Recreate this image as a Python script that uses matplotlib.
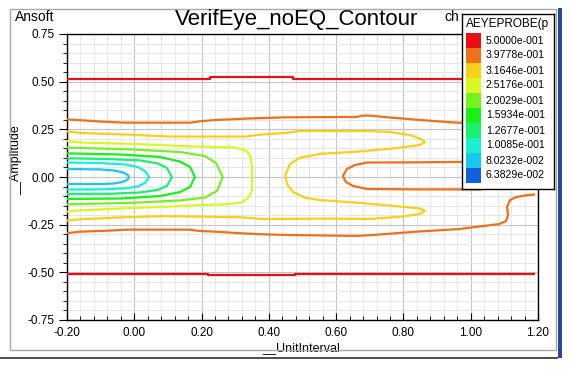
import matplotlib
matplotlib.use("Agg")
import matplotlib.pyplot as plt
from matplotlib.patches import Rectangle
from matplotlib.lines import Line2D
from matplotlib.ticker import MultipleLocator, FormatStrFormatter

plt.rcParams['font.family'] = ['Liberation Sans', 'DejaVu Sans']
plt.rcParams['axes.unicode_minus'] = False

## legend levels (AEYEPROBE)
level_labels = ["5.0000e-001", "3.9778e-001", "3.1646e-001", "2.5176e-001", "2.0029e-001",
                "1.5934e-001", "1.2677e-001", "1.0085e-001", "8.0232e-002", "6.3829e-002"]
level_colors = ["#E81010", "#F07018", "#F8D018", "#D8F820", "#78F020",
                "#18F018", "#18F070", "#18F0D0", "#18C8F0", "#1060E0"]

## contour traces (UnitInterval, Amplitude)
red_top_x = [-0.200, 0.225, 0.225, 0.472, 0.472, 1.190]
red_top_y = [0.514, 0.514, 0.522, 0.522, 0.514, 0.514]
red_bot_x = [-0.200, 0.219, 0.219, 0.478, 0.478, 1.188]
red_bot_y = [-0.507, -0.507, -0.512, -0.512, -0.507, -0.507]

orange_top_x = [-0.200, -0.170, -0.102, -0.028, 0.166, 0.195, 0.240, 0.344, 0.451,
                0.662, 0.677, 0.701, 0.760, 0.849, 0.959, 1.030]
orange_top_y = [0.302, 0.299, 0.291, 0.285, 0.285, 0.292, 0.299, 0.307, 0.313,
                0.315, 0.322, 0.322, 0.312, 0.299, 0.285, 0.281]
orange_mid_x = [1.030, 0.959, 0.849, 0.730, 0.692, 0.656, 0.632, 0.620, 0.629, 0.650,
                0.692, 0.849, 0.959, 1.030]
orange_mid_y = [0.079, 0.079, 0.077, 0.076, 0.076, 0.063, 0.042, 0.005, -0.026, -0.047,
                -0.063, -0.065, -0.065, -0.066]
orange_bot_x = [-0.200, -0.164, -0.084, -0.019, 0.160, 0.195, 0.255, 0.314, 0.389, 0.451,
                0.659, 0.710, 0.837, 0.965, 1.084, 1.105, 1.111, 1.108, 1.117, 1.135,
                1.161, 1.188]
orange_bot_y = [-0.295, -0.287, -0.282, -0.276, -0.276, -0.283, -0.288, -0.295, -0.301, -0.304,
                -0.309, -0.304, -0.287, -0.273, -0.247, -0.231, -0.199, -0.157, -0.121, -0.105,
                -0.097, -0.092]

yellow_x = [-0.200, -0.161, -0.028, 0.106, 0.329, 0.380, 0.448, 0.493, 0.701, 0.760,
            0.820, 0.852, 0.864, 0.849, 0.781, 0.671, 0.552, 0.493, 0.463, 0.449,
            0.454, 0.472, 0.507, 0.552, 0.671, 0.790, 0.849, 0.864, 0.849, 0.799,
            0.701, 0.552, 0.451, 0.380, 0.314, 0.091, -0.028, -0.164, -0.200]
yellow_y = [0.239, 0.231, 0.223, 0.212, 0.212, 0.223, 0.231, 0.241, 0.241, 0.236,
            0.220, 0.199, 0.184, 0.168, 0.152, 0.134, 0.121, 0.102, 0.068, 0.010,
            -0.037, -0.079, -0.108, -0.121, -0.136, -0.155, -0.165, -0.178, -0.194, -0.207,
            -0.220, -0.218, -0.220, -0.220, -0.211, -0.205, -0.211, -0.222, -0.229]

yg_x = [-0.200, -0.161, 0.017, 0.166, 0.293, 0.329, 0.344, 0.350, 0.350, 0.341,
        0.323, 0.284, 0.189, 0.091, -0.028, -0.161, -0.200]
yg_y = [0.189, 0.181, 0.172, 0.161, 0.155, 0.142, 0.115, 0.063, -0.068, -0.105,
        -0.131, -0.142, -0.148, -0.156, -0.164, -0.175, -0.182]

green_x = [-0.200, -0.013, 0.136, 0.210, 0.243, 0.263, 0.246, 0.210, 0.136, -0.013, -0.200]
green_y = [0.154, 0.145, 0.131, 0.110, 0.073, 0.000, -0.073, -0.108, -0.123, -0.136, -0.143]

bgreen_x = [-0.200, -0.042, 0.076, 0.136, 0.166, 0.180, 0.166, 0.136, 0.076, -0.042, -0.200]
bgreen_y = [0.124, 0.118, 0.105, 0.081, 0.052, 0.000, -0.052, -0.079, -0.100, -0.113, -0.115]

gcyan_x = [-0.200, -0.072, 0.017, 0.070, 0.097, 0.112, 0.097, 0.070, 0.017, -0.072, -0.200]
gcyan_y = [0.098, 0.094, 0.087, 0.071, 0.047, 0.000, -0.047, -0.068, -0.081, -0.088, -0.089]

cyan_x = [-0.200, -0.102, -0.028, 0.011, 0.032, 0.044, 0.032, 0.011, -0.028, -0.102, -0.200]
cyan_y = [0.076, 0.073, 0.066, 0.052, 0.031, 0.000, -0.031, -0.050, -0.060, -0.065, -0.066]

lblue_x = [-0.200, -0.102, -0.060, -0.034, -0.019, -0.016, -0.019, -0.034, -0.060, -0.102, -0.200]
lblue_y = [0.042, 0.040, 0.034, 0.024, 0.010, 0.000, -0.013, -0.026, -0.034, -0.037, -0.037]

traces = [
    (red_top_x, red_top_y, level_colors[0]),
    (red_bot_x, red_bot_y, level_colors[0]),
    (orange_top_x, orange_top_y, level_colors[1]),
    (orange_mid_x, orange_mid_y, level_colors[1]),
    (orange_bot_x, orange_bot_y, level_colors[1]),
    (yellow_x, yellow_y, level_colors[2]),
    (yg_x, yg_y, level_colors[3]),
    (green_x, green_y, level_colors[4]),
    (bgreen_x, bgreen_y, level_colors[5]),
    (gcyan_x, gcyan_y, level_colors[6]),
    (cyan_x, cyan_y, level_colors[7]),
    (lblue_x, lblue_y, level_colors[8]),
]

W, H = 572, 369
fig = plt.figure(figsize=(W / 100, H / 100), dpi=100)
fig.patch.set_facecolor('white')

# window frame
frame_col = '#A8A8A8'
fig.add_artist(Rectangle((10 / W, 1 - 350 / H), 546 / W, 341 / H, transform=fig.transFigure,
                         fill=False, edgecolor=frame_col, lw=1.0))
fig.add_artist(Line2D([0, 557 / W], [1 - 358 / H] * 2, transform=fig.transFigure,
                      color='#303030', lw=1.2))
fig.add_artist(Rectangle((558 / W, 1 - 358 / H), 4 / W, 350 / H, transform=fig.transFigure,
                         color='#2848A0', lw=0))

ax = fig.add_axes([67 / W, 1 - 320 / H, 471 / W, 286 / H])
ax.set_xlim(-0.2, 1.2)
ax.set_ylim(-0.75, 0.75)

for xs, ys, c in traces:
    ax.plot(xs, ys, color=c, lw=1.6, solid_joinstyle='round', zorder=3)

ax.xaxis.set_major_locator(MultipleLocator(0.2))
ax.xaxis.set_minor_locator(MultipleLocator(0.04))
ax.yaxis.set_major_locator(MultipleLocator(0.25))
ax.yaxis.set_minor_locator(MultipleLocator(0.05))
ax.xaxis.set_major_formatter(FormatStrFormatter('%.2f'))
ax.yaxis.set_major_formatter(FormatStrFormatter('%.2f'))
ax.grid(which='major', color='#C4C4C4', lw=0.8)
ax.grid(which='minor', color='#E6E6E6', lw=0.7)
ax.set_axisbelow(True)
ax.tick_params(axis='x', which='major', direction='in', length=5, pad=5, labelsize=8.5)
ax.tick_params(axis='x', which='minor', direction='in', length=3)
ax.tick_params(axis='y', which='major', direction='out', length=6, pad=3, labelsize=8.5)
ax.tick_params(axis='y', which='minor', direction='out', length=3)
for s in ax.spines.values():
    s.set_color('black')
    s.set_linewidth(1.0)

ax.set_xlabel('__UnitInterval', fontsize=9)
ax.xaxis.set_label_coords(0.497, -0.077)
ax.set_ylabel('__Amplitude', fontsize=9)
ax.yaxis.set_label_coords(-0.095, 0.56)

fig.text(297 / W, 1 - 19 / H, 'VerifEye_noEQ_Contour', fontsize=16, ha='center', va='center')
fig.text(15 / W, 1 - 17 / H, 'Ansoft', fontsize=10, ha='left', va='center')
fig.text(444 / W, 1 - 17 / H, 'ch', fontsize=10, ha='left', va='center')

# colour key box
lg = fig.add_axes([462 / W, 1 - 189 / H, 92 / W, 175 / H], zorder=5)
lg.set_xlim(0, 92)
lg.set_ylim(175, 0)
lg.set_xticks([])
lg.set_yticks([])
lg.set_facecolor('white')
for s in lg.spines.values():
    s.set_color('black')
    s.set_linewidth(1.0)
lg.text(4, 10, 'AEYEPROBE(p', fontsize=8.5, ha='left', va='center', clip_on=True)
for i, (lab, c) in enumerate(zip(level_labels, level_colors)):
    y0 = 19 + i * 15
    lg.add_patch(Rectangle((4, y0), 15, 15, color=c, lw=0))
    lg.text(24, y0 + 7.5, lab, fontsize=7.6, ha='left', va='center')

fig.savefig('out.png', dpi=100)
